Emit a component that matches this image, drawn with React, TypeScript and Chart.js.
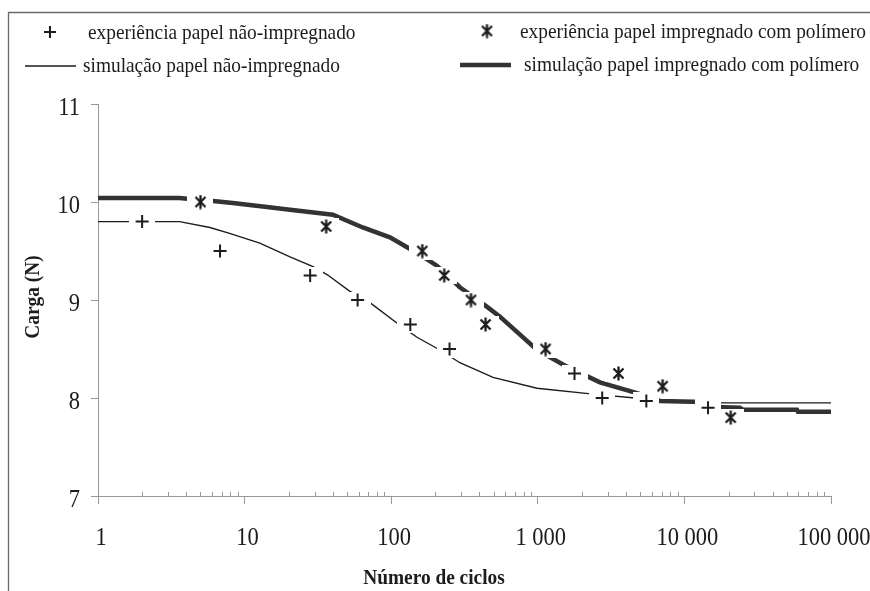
import React, { useEffect, useRef } from 'react';
import { Chart, registerables } from 'chart.js';

Chart.register(...registerables);

// experimental points – paper without impregnation (+)
const expNaoCiclos = [2, 6.8, 28, 59, 135, 250, 1780, 2750, 5500, 14500];
const expNaoCarga = [9.8, 9.5, 9.25, 9.0, 8.75, 8.5, 8.25, 8.0, 7.97, 7.9];
// experimental points – paper impregnated with polymer (*)
const expImpCiclos = [5, 36, 163, 230, 350, 440, 1130, 3550, 7100, 20700];
const expImpCarga = [10.0, 9.75, 9.5, 9.25, 9.0, 8.75, 8.5, 8.25, 8.12, 7.8];
// simulation – paper without impregnation (thin line)
const simNaoCiclos = [1, 3.6, 5.8, 7.9, 12.7, 20.4, 29.3, 36.5, 52, 72, 120, 150, 215, 294, 495, 988, 2380, 4600, 6820, 16900, 100000];
const simNaoCarga = [9.8, 9.8, 9.74, 9.68, 9.58, 9.44, 9.34, 9.26, 9.09, 8.97, 8.72, 8.62, 8.49, 8.36, 8.21, 8.1, 8.04, 8.0, 7.97, 7.95, 7.95];
// simulation – paper impregnated with polymer (thick line)
const simImpCiclos = [1, 3.6, 5.0, 6.1, 8.3, 14.2, 20.4, 40, 64, 98, 150, 205, 294, 451, 552, 988, 1580, 2655, 4750, 6820, 13400, 14000, 23900, 25100, 58600, 59500, 100000];
const simImpCarga = [10.04, 10.04, 10.02, 10.01, 9.99, 9.95, 9.92, 9.87, 9.74, 9.64, 9.48, 9.35, 9.13, 8.93, 8.83, 8.49, 8.32, 8.16, 8.05, 7.97, 7.96, 7.91, 7.9, 7.88, 7.88, 7.86, 7.86];

const xTickValues = [1, 10, 100, 1000, 10000, 100000];
const xTickLabels = ['1', '10', '100', '1 000', '10 000', '100 000'];
const yTickValues = [7, 8, 9, 10, 11];
const yTickLabels = ['7', '8', '9', '10', '11'];

const legendLabels = [
  'experiência papel não-impregnado',
  'simulação papel não-impregnado',
  'experiência papel impregnado com polímero',
  'simulação papel impregnado com polímero',
];
const xTitle = 'Número de ciclos';
const yTitle = 'Carga (N)';

const FONT = '"Liberation Serif", "Times New Roman", serif';
const INK = '#1c1c1c';

function pts(xs: number[], ys: number[]) {
  return xs.map((x, i) => ({ x, y: ys[i] }));
}

function makeStar(): HTMLCanvasElement {
  const c = document.createElement('canvas');
  c.width = 15;
  c.height = 15;
  const g = c.getContext('2d')!;
  g.strokeStyle = INK;
  g.lineWidth = 2.3;
  g.beginPath();
  g.moveTo(2.5, 2.5); g.lineTo(12.5, 12.5);
  g.moveTo(12.5, 2.5); g.lineTo(2.5, 12.5);
  g.moveTo(7.5, 0.5); g.lineTo(7.5, 14.5);
  g.stroke();
  return c;
}

function makeHalo(): HTMLCanvasElement {
  const c = document.createElement('canvas');
  c.width = 26;
  c.height = 17;
  const g = c.getContext('2d')!;
  g.fillStyle = '#ffffff';
  g.fillRect(0, 0, 26, 17);
  return c;
}

// draws horizontally condensed serif text (the reference type is narrow)
function condensed(ctx: CanvasRenderingContext2D, text: string, x: number, y: number, font: string, sx: number, align: CanvasTextAlign, rotate = 0) {
  ctx.save();
  ctx.translate(x, y);
  if (rotate) ctx.rotate(rotate);
  ctx.scale(sx, 1);
  ctx.font = font;
  ctx.textAlign = align;
  ctx.textBaseline = 'middle';
  ctx.fillText(text, 0, 0);
  ctx.restore();
}

export default function App() {
  const ref = useRef<HTMLCanvasElement | null>(null);

  useEffect(() => {
    if (!ref.current) return;
    const star = makeStar();
    const halo = makeHalo();

    const decorations = {
      id: 'decorations',
      beforeDraw(chart: any) {
        const { ctx } = chart;
        ctx.save();
        ctx.fillStyle = '#fff';
        ctx.fillRect(0, 0, chart.width, chart.height);
        ctx.strokeStyle = '#6a6a6a';
        ctx.lineWidth = 1.3;
        ctx.beginPath();
        ctx.moveTo(8.5, 591);
        ctx.lineTo(8.5, 12.5);
        ctx.lineTo(870, 12.5);
        ctx.stroke();
        ctx.restore();
      },
      afterDraw(chart: any) {
        const { ctx, chartArea } = chart;
        const xs = chart.scales.x;
        const ys = chart.scales.y;
        ctx.save();
        // minor ticks (inside)
        ctx.strokeStyle = '#999';
        ctx.lineWidth = 1;
        ctx.beginPath();
        for (let d = 0; d < 5; d++) {
          for (let k = 2; k <= 9; k++) {
            const px = Math.round(xs.getPixelForValue(k * Math.pow(10, d))) + 0.5;
            ctx.moveTo(px, chartArea.bottom);
            ctx.lineTo(px, chartArea.bottom - 4);
          }
        }
        ctx.stroke();

        ctx.fillStyle = INK;
        // tick labels
        const tickFont = `25px ${FONT}`;
        xTickValues.forEach((v, i) => {
          condensed(ctx, xTickLabels[i], xs.getPixelForValue(v) + 3, 538, tickFont, 0.9, 'center');
        });
        yTickValues.forEach((v, i) => {
          condensed(ctx, yTickLabels[i], 80, ys.getPixelForValue(v) + 4, tickFont, 0.9, 'right');
        });

        // axis titles
        const titleFont = `bold 21.5px ${FONT}`;
        condensed(ctx, xTitle, 434, 578, titleFont, 0.9, 'center');
        condensed(ctx, yTitle, 33, 297, titleFont, 0.9, 'center', -Math.PI / 2);

        // legend
        const legFont = `21.5px ${FONT}`;
        condensed(ctx, legendLabels[0], 88, 33, legFont, 0.9, 'left');
        condensed(ctx, legendLabels[1], 83, 66, legFont, 0.9, 'left');
        condensed(ctx, legendLabels[2], 520, 32, legFont, 0.9, 'left');
        condensed(ctx, legendLabels[3], 524, 65, legFont, 0.9, 'left');
        // legend symbols
        ctx.strokeStyle = INK;
        ctx.lineWidth = 2;
        ctx.beginPath();
        ctx.moveTo(44, 32); ctx.lineTo(56, 32);
        ctx.moveTo(50, 26); ctx.lineTo(50, 38);
        ctx.stroke();
        ctx.lineWidth = 1.5;
        ctx.beginPath();
        ctx.moveTo(25, 66); ctx.lineTo(76, 66);
        ctx.stroke();
        ctx.drawImage(star, 487 - 7.5, 31 - 7.5);
        ctx.strokeStyle = '#333';
        ctx.lineWidth = 4.5;
        ctx.beginPath();
        ctx.moveTo(460, 65); ctx.lineTo(511, 65);
        ctx.stroke();
        ctx.restore();
      },
    };

    const chart = new Chart(ref.current, {
      type: 'scatter',
      data: {
        datasets: [
          {
            label: legendLabels[1],
            data: pts(simNaoCiclos, simNaoCarga),
            showLine: true,
            borderColor: INK,
            borderWidth: 1.4,
            pointRadius: 0,
            tension: 0,
            order: 3,
          },
          {
            label: legendLabels[3],
            data: pts(simImpCiclos, simImpCarga),
            showLine: true,
            borderColor: '#333',
            borderWidth: 4.5,
            pointRadius: 0,
            tension: 0,
            order: 2,
          },
          {
            label: 'halo1',
            data: pts(expNaoCiclos, expNaoCarga),
            showLine: false,
            pointStyle: halo as any,
            pointRadius: 6,
            order: 1,
          },
          {
            label: 'halo2',
            data: pts(expImpCiclos, expImpCarga),
            showLine: false,
            pointStyle: halo as any,
            pointRadius: 6,
            order: 1,
          },
          {
            label: legendLabels[0],
            data: pts(expNaoCiclos, expNaoCarga),
            showLine: false,
            pointStyle: 'cross',
            pointRadius: 6.5,
            pointBorderWidth: 2,
            pointBorderColor: INK,
            order: 0,
          },
          {
            label: legendLabels[2],
            data: pts(expImpCiclos, expImpCarga),
            showLine: false,
            pointStyle: star as any,
            pointRadius: 6,
            order: 0,
          },
        ],
      },
      options: {
        responsive: false,
        animation: false,
        events: [],
        layout: { padding: { left: 0, top: 104, right: 39, bottom: 0 } },
        plugins: { legend: { display: false }, tooltip: { enabled: false }, title: { display: false } },
        scales: {
          x: {
            type: 'logarithmic',
            min: 1,
            max: 100000,
            afterBuildTicks: (s: any) => {
              s.ticks = xTickValues.map((v) => ({ value: v, major: true }));
            },
            afterFit: (s: any) => {
              s.height = 95;
              s.paddingLeft = 0;
              s.paddingRight = 0;
            },
            ticks: { display: false },
            grid: { display: true, drawOnChartArea: false, drawTicks: true, tickLength: 8, color: '#999', lineWidth: 1 },
            border: { display: true, color: '#999', width: 1 },
          },
          y: {
            type: 'linear',
            min: 7,
            max: 11,
            afterBuildTicks: (s: any) => {
              s.ticks = yTickValues.map((v) => ({ value: v }));
            },
            afterFit: (s: any) => {
              s.width = 98;
              s.paddingTop = 0;
              s.paddingBottom = 0;
            },
            ticks: { display: false },
            grid: { display: true, drawOnChartArea: false, drawTicks: true, tickLength: 7, color: '#999', lineWidth: 1 },
            border: { display: true, color: '#999', width: 1 },
          },
        },
      },
      plugins: [decorations],
    } as any);

    return () => chart.destroy();
  }, []);

  return (
    <div style={{ position: 'fixed', left: 0, top: 0, width: 870, height: 591, background: '#fff' }}>
      <canvas ref={ref} width={870} height={591} style={{ display: 'block', width: 870, height: 591 }} />
    </div>
  );
}
